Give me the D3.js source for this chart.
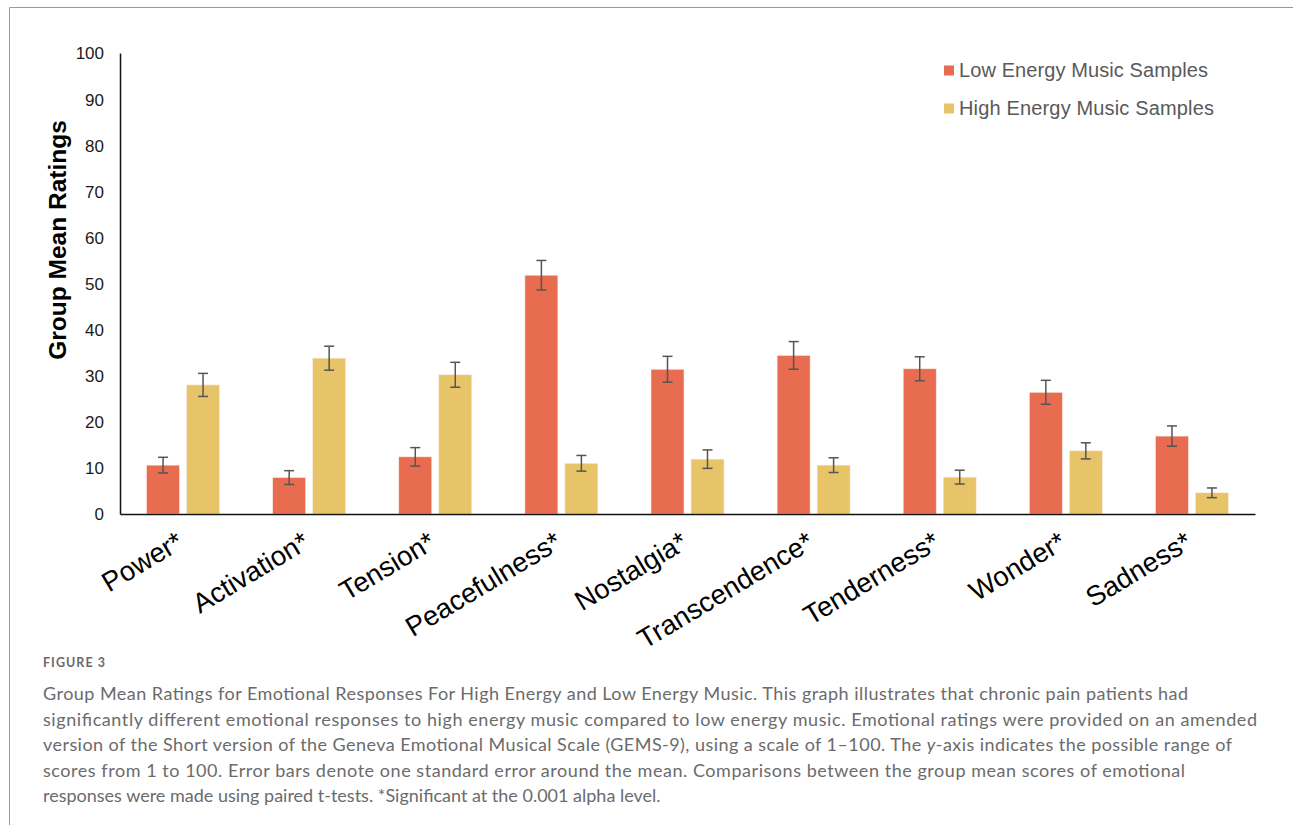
<!DOCTYPE html>
<html>
<head>
<meta charset="utf-8">
<script src="https://cdn.jsdelivr.net/npm/d3@7"></script>
<style>
  html, body { margin: 0; padding: 0; background: #fff; }
  svg { display: block; }
</style>
</head>
<body>
<svg id="chart" width="1293" height="825"></svg>
<script>
const categories = ["Power*", "Activation*", "Tension*", "Peacefulness*", "Nostalgia*", "Transcendence*", "Tenderness*", "Wonder*", "Sadness*"];
const seriesNames = ["Low Energy Music Samples", "High Energy Music Samples"];
const lowEnergy = [10.6, 7.9, 12.4, 51.8, 31.4, 34.4, 31.5, 26.4, 16.9];
const lowEnergySE = [1.7, 1.5, 2.0, 3.2, 2.8, 3.0, 2.6, 2.6, 2.2];
const highEnergy = [28.0, 33.8, 30.2, 11.0, 11.9, 10.6, 8.0, 13.7, 4.6];
const highEnergySE = [2.5, 2.6, 2.7, 1.7, 2.0, 1.6, 1.5, 1.75, 1.05];
const yTicks = [0, 10, 20, 30, 40, 50, 60, 70, 80, 90, 100];
const colors = ["#E76C50", "#E8C469"];
const yTitle = "Group Mean Ratings";
const figureLabel = "FIGURE 3";
const captionLines = [
  [{t: "Group Mean Ratings for Emotional Responses For High Energy and Low Energy Music. This graph illustrates that chronic pain patients had"}],
  [{t: "significantly different emotional responses to high energy music compared to low energy music. Emotional ratings were provided on an amended"}],
  [{t: "version of the Short version of the Geneva Emotional Musical Scale (GEMS-9), using a scale of 1\u2013100. The "}, {t: "y", i: true}, {t: "-axis indicates the possible range of"}],
  [{t: "scores from 1 to 100. Error bars denote one standard error around the mean. Comparisons between the group mean scores of emotional"}],
  [{t: "responses were made using paired t-tests. *Significant at the 0.001 alpha level."}]
];
const captionWidths = [1145, 1214, 1189, 1142, null];

const svg = d3.select("#chart");

// frame
svg.append("line").attr("x1", 9.5).attr("x2", 1293).attr("y1", 7.5).attr("y2", 7.5).attr("stroke", "#9a9a9a").attr("stroke-width", 1);
svg.append("line").attr("x1", 9.5).attr("x2", 9.5).attr("y1", 7.5).attr("y2", 825).attr("stroke", "#9a9a9a").attr("stroke-width", 1);

const x0 = d3.scaleBand().domain(categories).range([120, 1255]).paddingInner(0).paddingOuter(0);
const x1 = d3.scaleBand().domain(seriesNames).range([0, x0.bandwidth()]).paddingInner(0.175).paddingOuter(0.664);
const y = d3.scaleLinear().domain([0, 100]).range([514, 53]);

const data = categories.map((c, i) => ({
  cat: c,
  vals: [
    {s: seriesNames[0], v: lowEnergy[i], e: lowEnergySE[i], c: colors[0]},
    {s: seriesNames[1], v: highEnergy[i], e: highEnergySE[i], c: colors[1]}
  ]
}));

const groups = svg.append("g").selectAll("g").data(data).join("g")
  .attr("transform", d => `translate(${x0(d.cat)},0)`);

groups.selectAll("rect").data(d => d.vals).join("rect")
  .attr("x", d => x1(d.s))
  .attr("width", x1.bandwidth())
  .attr("y", d => y(d.v))
  .attr("height", d => y(0) - y(d.v))
  .attr("fill", d => d.c)
  .attr("stroke", "#fbe9e2")
  .attr("stroke-width", 0.6);

const capHalf = 5;
const eb = groups.selectAll("g.eb").data(d => d.vals).join("g").attr("class", "eb")
  .attr("stroke", "#555").attr("stroke-width", 1.5);
eb.append("line")
  .attr("x1", d => x1(d.s) + x1.bandwidth() / 2).attr("x2", d => x1(d.s) + x1.bandwidth() / 2)
  .attr("y1", d => y(d.v + d.e)).attr("y2", d => y(d.v - d.e));
eb.append("line")
  .attr("x1", d => x1(d.s) + x1.bandwidth() / 2 - capHalf).attr("x2", d => x1(d.s) + x1.bandwidth() / 2 + capHalf)
  .attr("y1", d => y(d.v + d.e)).attr("y2", d => y(d.v + d.e));
eb.append("line")
  .attr("x1", d => x1(d.s) + x1.bandwidth() / 2 - capHalf).attr("x2", d => x1(d.s) + x1.bandwidth() / 2 + capHalf)
  .attr("y1", d => y(d.v - d.e)).attr("y2", d => y(d.v - d.e));

// Y axis
const yAxis = svg.append("g").attr("transform", "translate(120,0)")
  .call(d3.axisLeft(y).tickValues(yTicks).tickSize(0).tickSizeOuter(0).tickPadding(16));
yAxis.select(".domain").attr("stroke", "#111").attr("stroke-width", 1.5);
yAxis.selectAll("text").attr("font-family", "'Liberation Sans', Arial, sans-serif").attr("font-size", 17).attr("fill", "#1a1a1a").attr("dy", "0.35em");

// X axis
const xAxis = svg.append("g").attr("transform", "translate(0,514)")
  .call(d3.axisBottom(x0).tickSize(0).tickSizeOuter(0).tickPadding(0));
xAxis.select(".domain").attr("stroke", "#111").attr("stroke-width", 1.5);
xAxis.selectAll(".tick text")
  .attr("font-family", "'Liberation Sans', Arial, sans-serif").attr("font-size", 27.5).attr("fill", "#000")
  .attr("text-anchor", "end")
  .attr("x", 0).attr("y", 0).attr("dy", 0)
  .attr("transform", "translate(2,33) rotate(-31)");

// Y title
svg.append("text")
  .attr("transform", "translate(65.5,240) rotate(-90)")
  .attr("text-anchor", "middle")
  .attr("font-family", "'Liberation Sans', Arial, sans-serif").attr("font-weight", "bold").attr("font-size", 24.5)
  .attr("fill", "#000")
  .text(yTitle);

// Legend
const legend = svg.append("g").selectAll("g").data(seriesNames).join("g")
  .attr("transform", (d, i) => `translate(944,${76.5 + i * 38})`);
legend.append("rect").attr("x", 0).attr("y", -11).attr("width", 10).attr("height", 10).attr("fill", (d, i) => colors[i]);
legend.append("text").attr("x", 15).attr("y", 0)
  .attr("font-family", "'Liberation Sans', Arial, sans-serif").attr("font-size", 20).attr("fill", "#595959")
  .attr("textLength", (d, i) => i === 0 ? 249 : 255).attr("lengthAdjust", "spacing")
  .text(d => d);

// Caption
svg.append("text").attr("x", 43).attr("y", 667)
  .attr("font-family", "Lato, 'Open Sans', sans-serif").attr("font-weight", "bold").attr("font-size", 12.5)
  .attr("fill", "#6a6a6a").attr("textLength", 62).attr("lengthAdjust", "spacing")
  .text(figureLabel);

const capG = svg.append("g");
const capTexts = capG.selectAll("text").data(captionLines).join("text")
  .attr("x", 43).attr("y", (d, i) => 700 + i * 25.5)
  .attr("font-family", "Lato, 'Open Sans', sans-serif").attr("font-size", 18)
  .attr("fill", "#6b6b6b");
capTexts.each(function(d) {
  d3.select(this).selectAll("tspan").data(d).join("tspan")
    .attr("font-style", p => p.i ? "italic" : null)
    .text(p => p.t);
});
capTexts.each(function(d, i) {
  if (captionWidths[i]) d3.select(this).attr("textLength", captionWidths[i]).attr("lengthAdjust", "spacing");
});
</script>
</body>
</html>
